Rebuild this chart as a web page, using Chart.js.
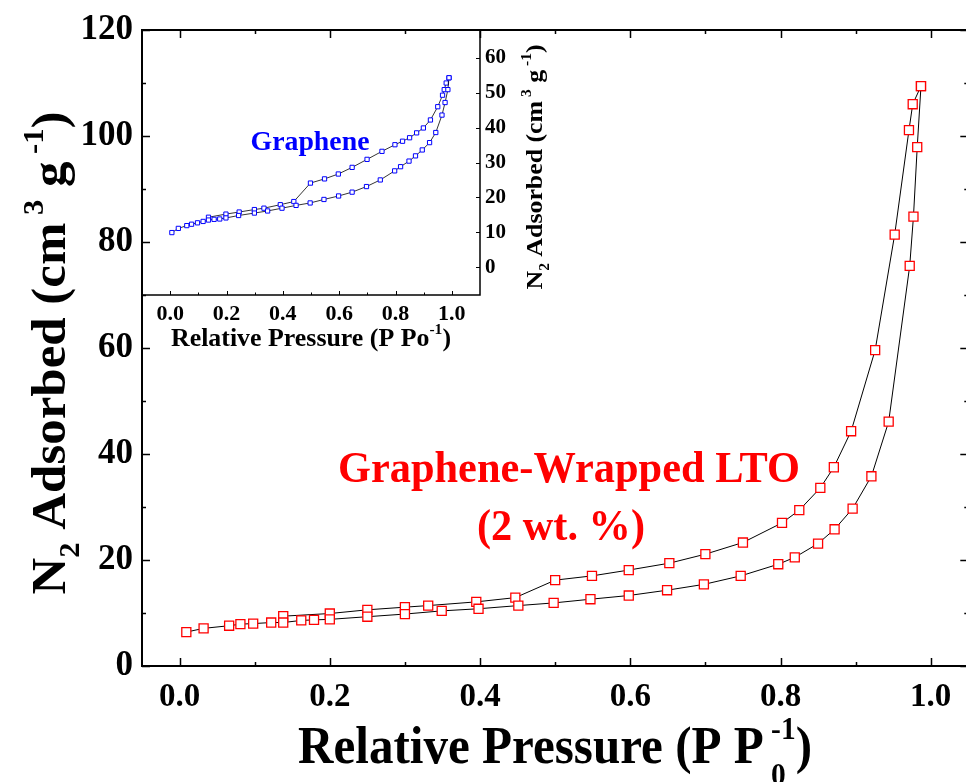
<!DOCTYPE html>
<html>
<head>
<meta charset="utf-8">
<script src="https://cdn.jsdelivr.net/npm/chart.js@4.4.1/dist/chart.umd.min.js"></script>
<style>
  html, body { margin: 0; padding: 0; background: #fff; overflow: hidden; }
  #wrap { position: relative; width: 966px; height: 782px; overflow: hidden; }
  #wrap canvas { position: absolute; left: 0; top: 0; }
</style>
</head>
<body>
<div id="wrap">
  <canvas id="MainChart" width="976" height="782"></canvas>
  <canvas id="InsetChart" width="966" height="782"></canvas>
</div>
<script>
const serif = "'Liberation Serif', 'Times New Roman', serif";

// main plot: graphene-wrapped LTO, adsorption branch (lower)
const ltoAdsP = [0.009, 0.032, 0.066, 0.081, 0.098, 0.122, 0.138, 0.162, 0.179, 0.200,
  0.250, 0.300, 0.349, 0.398, 0.451, 0.498, 0.547, 0.598, 0.649, 0.698,
  0.747, 0.797, 0.819, 0.850, 0.872, 0.896, 0.921, 0.944, 0.972, 0.977, 0.982, 0.987];
const ltoAdsV = [6.4, 7.1, 7.6, 7.9, 8.0, 8.2, 8.2, 8.6, 8.7, 8.8,
  9.3, 9.8, 10.4, 10.8, 11.4, 11.9, 12.6, 13.3, 14.3, 15.4,
  17.0, 19.2, 20.5, 23.1, 25.8, 29.7, 35.8, 46.1, 75.5, 84.8, 97.9, 109.4];
// desorption branch (upper)
const ltoDesP = [0.987, 0.976, 0.971, 0.952, 0.926, 0.894, 0.871, 0.853, 0.825, 0.802,
  0.750, 0.700, 0.652, 0.598, 0.549, 0.500, 0.447, 0.395, 0.331, 0.300, 0.250, 0.200, 0.138];
const ltoDesV = [109.4, 106.0, 101.1, 81.4, 59.6, 44.3, 37.5, 33.6, 29.4, 27.0,
  23.3, 21.1, 19.4, 18.1, 17.0, 16.2, 12.9, 12.1, 11.4, 11.1, 10.6, 9.9, 9.4];

// inset: graphene
const grAdsP = [0.006, 0.029, 0.059, 0.076, 0.097, 0.117, 0.136, 0.156, 0.176, 0.198,
  0.243, 0.299, 0.346, 0.397, 0.447, 0.497, 0.546, 0.598, 0.646, 0.697,
  0.746, 0.797, 0.818, 0.848, 0.871, 0.895, 0.921, 0.943, 0.965, 0.976, 0.986, 0.990];
const grAdsV = [9.9, 11.1, 11.9, 12.3, 12.7, 13.1, 13.5, 13.7, 13.8, 14.1,
  14.8, 15.5, 16.1, 16.9, 17.7, 18.4, 19.4, 20.4, 21.5, 23.1,
  25.0, 27.6, 28.8, 30.4, 31.9, 33.6, 35.7, 38.6, 43.6, 47.2, 50.9, 54.3];
const grDesP = [0.990, 0.980, 0.973, 0.967, 0.950, 0.924, 0.899, 0.875, 0.850, 0.825,
  0.798, 0.752, 0.699, 0.646, 0.597, 0.548, 0.498, 0.439, 0.391, 0.333, 0.299, 0.245, 0.198, 0.136];
const grDesV = [54.3, 52.8, 50.9, 49.3, 46.0, 42.2, 39.9, 38.5, 37.1, 36.1,
  35.1, 33.2, 30.9, 28.6, 26.7, 25.3, 24.1, 18.8, 17.9, 16.9, 16.5, 15.8, 15.2, 14.3];

// tick values
const mainXMajor = [0, 0.2, 0.4, 0.6, 0.8, 1.0];
const mainXMinor = [0.1, 0.3, 0.5, 0.7, 0.9];
const mainYMajor = [0, 20, 40, 60, 80, 100, 120];
const mainYMinor = [10, 30, 50, 70, 90, 110];
const insetXMajor = [0, 0.2, 0.4, 0.6, 0.8, 1.0];
const insetXMinor = [0.1, 0.3, 0.5, 0.7, 0.9];
const insetYMajor = [0, 10, 20, 30, 40, 50, 60];

const toPts = (xs, ys) => xs.map((x, i) => ({ x: x, y: ys[i] }));

// frame + inward tick marks (major and minor)
const frameTicks = {
  id: "frameTicks",
  afterDraw(chart, args, o) {
    const { ctx, chartArea: a } = chart;
    const sx = chart.scales.x, sy = chart.scales.y;
    ctx.save();
    ctx.strokeStyle = "#000";
    ctx.lineWidth = o.tickWidth;
    ctx.beginPath();
    const xMark = (v, len) => {
      const px = Math.round(sx.getPixelForValue(v)) + 0.5;
      if (o.xSides.includes("bottom")) { ctx.moveTo(px, a.bottom); ctx.lineTo(px, a.bottom - len); }
      if (o.xSides.includes("top")) { ctx.moveTo(px, a.top); ctx.lineTo(px, a.top + len); }
    };
    const yMark = (v, len) => {
      const py = Math.round(sy.getPixelForValue(v)) + 0.5;
      if (o.ySides.includes("left")) { ctx.moveTo(a.left, py); ctx.lineTo(a.left + len, py); }
      if (o.ySides.includes("right")) { ctx.moveTo(a.right, py); ctx.lineTo(a.right - len, py); }
    };
    o.xMajor.forEach(v => xMark(v, o.major));
    o.xMinor.forEach(v => xMark(v, o.minor));
    o.yMajor.forEach(v => yMark(v, o.major));
    o.yMinor.forEach(v => yMark(v, o.minor));
    ctx.stroke();
    ctx.lineWidth = o.frameWidth;
    ctx.strokeRect(a.left, a.top, a.right - a.left, a.bottom - a.top);
    ctx.restore();
  }
};

// text with sub/superscripts; part = [text, sizeFactor, dyFactor, noAdvance]
function drawRich(ctx, it) {
  ctx.save();
  ctx.translate(it.x, it.y);
  if (it.rotate) ctx.rotate(it.rotate);
  ctx.fillStyle = it.color || "#000";
  ctx.textBaseline = "alphabetic";
  ctx.textAlign = "left";
  let total = 0;
  it.parts.forEach(p => {
    ctx.font = `bold ${it.size * p[1]}px ${serif}`;
    if (!p[3]) total += ctx.measureText(p[0]).width;
  });
  if (it.width) ctx.scale(it.width / total, 1);
  let cx = -total / 2;
  it.parts.forEach(p => {
    ctx.font = `bold ${it.size * p[1]}px ${serif}`;
    ctx.fillText(p[0], cx, p[2] * it.size);
    if (!p[3]) cx += ctx.measureText(p[0]).width;
  });
  ctx.restore();
}

const richText = {
  id: "richText",
  afterDraw(chart, args, o) {
    o.items.forEach(it => drawRich(chart.ctx, it));
  }
};

const tickFont = (size) => ({ family: serif, size: size, weight: "bold" });

// main chart
new Chart(document.getElementById("MainChart"), {
  type: "scatter",
  data: {
    datasets: [
      {
        label: "Adsorption",
        data: toPts(ltoAdsP, ltoAdsV),
        showLine: true,
        borderColor: "#000",
        borderWidth: 1,
        pointStyle: "rect",
        pointRadius: 6.4,
        pointBorderColor: "#ff0000",
        pointBackgroundColor: "#fff",
        pointBorderWidth: 1.3,
      },
      {
        label: "Desorption",
        data: toPts(ltoDesP, ltoDesV),
        showLine: true,
        borderColor: "#000",
        borderWidth: 1,
        pointStyle: "rect",
        pointRadius: 6.4,
        pointBorderColor: "#ff0000",
        pointBackgroundColor: "#fff",
        pointBorderWidth: 1.3,
      },
    ],
  },
  options: {
    responsive: false,
    animation: false,
    layout: { padding: { left: 0, top: 30, right: 6, bottom: 0 } },
    plugins: {
      legend: { display: false },
      tooltip: { enabled: false },
      frameTicks: {
        xSides: ["bottom", "top"], ySides: ["left", "right"],
        xMajor: mainXMajor, xMinor: mainXMinor, yMajor: mainYMajor, yMinor: mainYMinor,
        major: 8, minor: 4, tickWidth: 1.5, frameWidth: 2,
      },
      richText: {
        items: [
          { parts: [["N", 1, 0], ["2", 0.6, 0.3], [" Adsorbed (cm", 1, 0], [" 3", 0.6, -0.45], [" g", 1, 0], [" -1", 0.6, -0.45], [")", 1, 0]],
            x: 65, y: 353, size: 48, rotate: -Math.PI / 2, width: 483 },
          { parts: [["Relative Pressure (P P", 1, 0], [" 0", 0.6, 0.42, true], [" -1", 0.6, -0.45], [")", 1, 0]],
            x: 555, y: 763, size: 53, width: 514 },
          { parts: [["Graphene-Wrapped LTO", 1, 0]], x: 569, y: 482, size: 44, width: 462, color: "#ff0000" },
          { parts: [["(2 wt. %)", 1, 0]], x: 561, y: 540, size: 44, width: 168, color: "#ff0000" },
        ],
      },
    },
    scales: {
      x: {
        type: "linear", min: -0.05, max: 1.05,
        grid: { display: false, drawTicks: false }, border: { display: false },
        afterBuildTicks: (s) => { s.ticks = mainXMajor.map(v => ({ value: v })); },
        afterFit: (s) => { s.height = 116; },
        ticks: { padding: 12, color: "#000", font: tickFont(33), callback: (v) => v.toFixed(1) },
      },
      y: {
        type: "linear", min: 0, max: 120,
        grid: { display: false, drawTicks: false }, border: { display: false },
        afterBuildTicks: (s) => { s.ticks = mainYMajor.map(v => ({ value: v })); },
        afterFit: (s) => { s.width = 142; },
        ticks: { padding: 9, color: "#000", font: tickFont(35), callback: (v) => v },
      },
    },
  },
  plugins: [frameTicks, richText],
});

// inset chart: graphene
new Chart(document.getElementById("InsetChart"), {
  type: "scatter",
  data: {
    datasets: [
      {
        label: "Adsorption",
        data: toPts(grAdsP, grAdsV),
        showLine: true,
        borderColor: "#000",
        borderWidth: 0.8,
        pointStyle: "rect",
        pointRadius: 3,
        pointBorderColor: "#0000ff",
        pointBackgroundColor: "#fff",
        pointBorderWidth: 1,
      },
      {
        label: "Desorption",
        data: toPts(grDesP, grDesV),
        showLine: true,
        borderColor: "#000",
        borderWidth: 0.8,
        pointStyle: "rect",
        pointRadius: 3,
        pointBorderColor: "#0000ff",
        pointBackgroundColor: "#fff",
        pointBorderWidth: 1,
      },
    ],
  },
  options: {
    responsive: false,
    animation: false,
    layout: { padding: { left: 142, top: 30, right: 406, bottom: 427 } },
    plugins: {
      legend: { display: false },
      tooltip: { enabled: false },
      frameTicks: {
        xSides: ["bottom"], ySides: ["right"],
        xMajor: insetXMajor, xMinor: insetXMinor, yMajor: insetYMajor, yMinor: [],
        major: 4, minor: 2.5, tickWidth: 1, frameWidth: 1.5,
      },
      richText: {
        items: [
          { parts: [["N", 1, 0], ["2", 0.6, 0.3], [" Adsorbed (cm", 1, 0], [" 3", 0.6, -0.45], [" g", 1, 0], [" -1", 0.6, -0.45], [")", 1, 0]],
            x: 542, y: 167, size: 24, rotate: -Math.PI / 2, width: 245 },
          { parts: [["Relative Pressure (P Po", 1, 0], ["-1", 0.6, -0.45], [")", 1, 0]],
            x: 311, y: 346, size: 26, width: 280 },
          { parts: [["Graphene", 1, 0]], x: 310, y: 150, size: 27, width: 119, color: "#0000ff" },
        ],
      },
    },
    scales: {
      x: {
        type: "linear", min: -0.1, max: 1.1,
        grid: { display: false, drawTicks: false }, border: { display: false },
        afterBuildTicks: (s) => { s.ticks = insetXMajor.map(v => ({ value: v })); },
        afterFit: (s) => { s.height = 60; },
        ticks: { padding: 6, color: "#000", font: tickFont(22), callback: (v) => v.toFixed(1) },
      },
      y: {
        type: "linear", position: "right", min: -8, max: 68,
        grid: { display: false, drawTicks: false }, border: { display: false },
        afterBuildTicks: (s) => { s.ticks = insetYMajor.map(v => ({ value: v })); },
        afterFit: (s) => { s.width = 80; },
        ticks: { padding: 5, color: "#000", font: tickFont(21), callback: (v) => v },
      },
    },
  },
  plugins: [frameTicks, richText],
});
</script>
</body>
</html>
